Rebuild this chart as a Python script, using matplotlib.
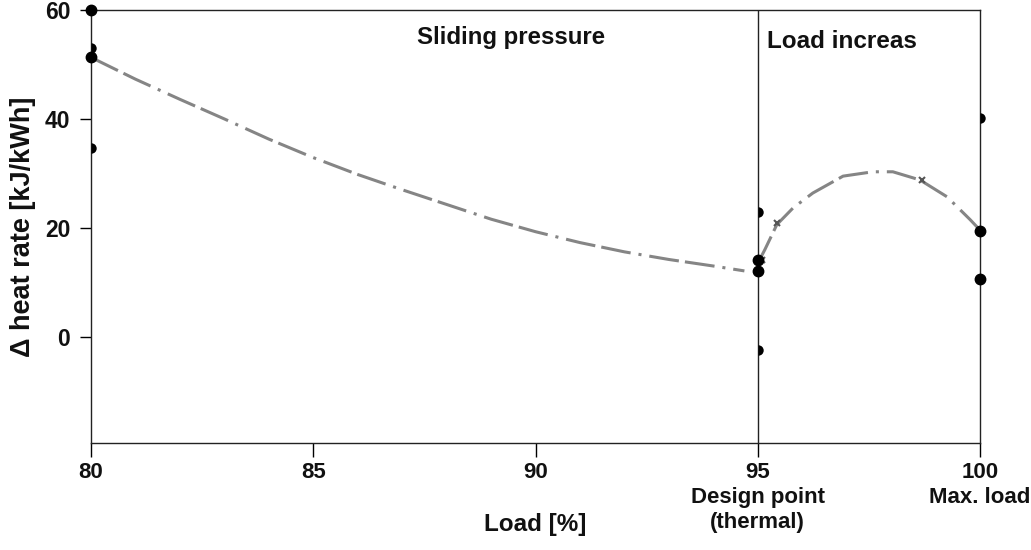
import numpy as np
import matplotlib
matplotlib.use('Agg')
import matplotlib.pyplot as plt

plt.rcParams['font.family'] = ['Liberation Sans', 'DejaVu Sans']

# sliding pressure branch
slide_x = [80, 81, 82, 83, 84, 85, 86, 87, 88, 89, 90, 91, 92, 93, 94, 94.7]
slide_y = [51.3, 47.3, 43.6, 40.0, 36.3, 32.9, 29.8, 27.0, 24.3, 21.6, 19.3, 17.3, 15.6, 14.2, 13.0, 12.1]

# load increase branch
incr_x = [95.0, 95.16, 95.43, 95.8, 96.24, 96.92, 97.59, 98.04, 98.65, 99.26, 99.78, 100.0]
incr_y = [13.5, 16.0, 20.6, 23.7, 26.4, 29.5, 30.3, 30.3, 28.8, 25.7, 21.5, 19.6]

# black dots on the 80 / 95 / 100 lines
dot_x = [80, 80, 95, 95, 100, 100]
dot_y = [60, 51.4, 14.1, 12.1, 19.4, 10.6]
half_x = [80, 80, 95, 95, 100]
half_y = [53.0, 34.7, 22.9, -2.4, 40.2]

# small cross marks on the curve
mark_x = [95.1, 95.43, 98.7]
mark_y = [14.1, 20.9, 28.8]

xticks = [80, 85, 90, 95, 100]
xticklabels = ['80', '85', '90', '95\nDesign point\n(thermal)', '100\nMax. load']
yticks = [0, 20, 40, 60]

fig = plt.figure(figsize=(10.31, 5.5), dpi=100)
ax = fig.add_axes([0.0883, 0.1945, 0.8622, 0.7873])

dash = (0, (9.8, 2.0, 9.8, 2.6, 1.0, 2.6))
ax.plot(slide_x, slide_y, color='#858585', lw=2.2, linestyle=dash)
ax.plot(incr_x, incr_y, color='#858585', lw=2.2, linestyle=dash)
ax.plot(mark_x, mark_y, 'x', color='#555555', ms=5, mew=1.5)

ax.axvline(95, color='#222222', lw=1)

ax.plot(dot_x, dot_y, 'o', color='black', ms=7.5, clip_on=False, zorder=5)
ax.plot(half_x, half_y, 'o', color='black', ms=7.5, fillstyle='right', mew=0,
        clip_on=False, zorder=5)

ax.set_xlim(80, 100)
ax.set_ylim(-19.5, 60)
ax.set_xticks(xticks)
ax.set_xticklabels(xticklabels, fontsize=16, fontweight='bold', color='#111111',
                   linespacing=1.25)
ax.set_yticks(yticks)
ax.set_yticklabels([str(t) for t in yticks], fontsize=16.5, fontweight='bold', color='#111111')
ax.tick_params(axis='y', direction='out', length=8, width=1, pad=7)
ax.tick_params(axis='x', direction='out', length=10, width=1, pad=4)
for s in ax.spines.values():
    s.set_color('#222222')
    s.set_linewidth(1)

ax.text(89.45, 54.9, 'Sliding pressure', fontsize=17.3, fontweight='bold',
        ha='center', va='center', color='#111111')
ax.text(95.2, 54.2, 'Load increas', fontsize=17.5, fontweight='bold',
        ha='left', va='center', color='#111111')

ax.text(-0.076, 0.5, '\u0394 heat rate [kJ/kWh]', transform=ax.transAxes,
        rotation=90, ha='center', va='center', fontsize=19.5, fontweight='bold',
        color='#111111')
ax.text(0.5, -0.189, 'Load [%]', transform=ax.transAxes,
        ha='center', va='center', fontsize=17.5, fontweight='bold', color='#111111')

fig.savefig('out.png', dpi=100)
